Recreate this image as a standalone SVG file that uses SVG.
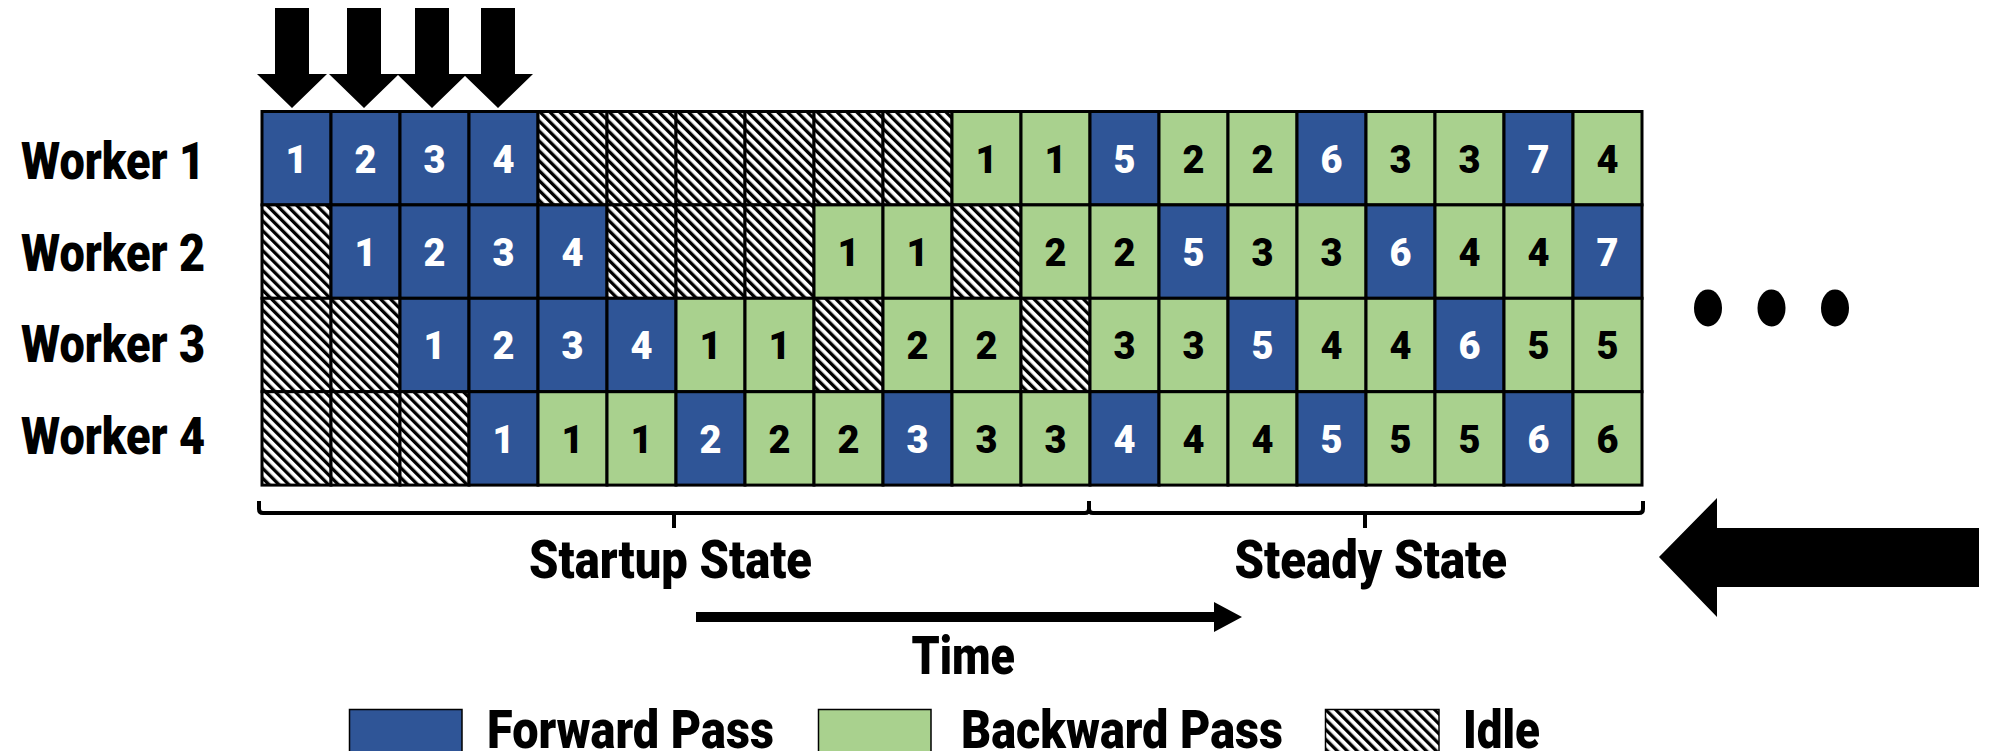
<svg xmlns="http://www.w3.org/2000/svg" width="1990" height="751" viewBox="0 0 1990 751">
<defs>
<pattern id="hatch" patternUnits="userSpaceOnUse" width="7" height="10" patternTransform="rotate(-45)">
<rect x="0" y="0" width="7" height="10" fill="#fff"/>
<rect x="0" y="0" width="3.3" height="10" fill="#000"/>
</pattern>
<style>
.f{fill:#2F5597;stroke:#000;stroke-width:3}
.b{fill:#A9D18E;stroke:#000;stroke-width:3}
.i{fill:url(#hatch);stroke:#000;stroke-width:3}
.n{font-family:Roboto,"Liberation Sans",sans-serif;font-weight:900;font-size:38px;text-anchor:middle}
.tf{fill:#fff}
.tb{fill:#000}
.lbl{font-family:Roboto,"Liberation Sans",sans-serif;font-weight:900;fill:#000}
.w{font-size:51px}
.s{font-size:54px}
.lg{stroke:#000;stroke-width:1.5}
.arr{fill:#000}
.br{fill:none;stroke:#000;stroke-width:4}
</style>
</defs>
<rect x="0" y="0" width="1990" height="751" fill="#fff"/>

<g id="labels">
<text class="lbl w" x="21" y="179" textLength="184" lengthAdjust="spacingAndGlyphs">Worker 1</text>
<text class="lbl w" x="21" y="270.5" textLength="184" lengthAdjust="spacingAndGlyphs">Worker 2</text>
<text class="lbl w" x="21" y="362" textLength="184" lengthAdjust="spacingAndGlyphs">Worker 3</text>
<text class="lbl w" x="21" y="453.5" textLength="184" lengthAdjust="spacingAndGlyphs">Worker 4</text>
</g>

<g id="worker1">
<g id="w1c1"><rect class="f" x="262" y="111.5" width="69" height="93.4"/><text class="n tf" x="296.5" y="172.5">1</text></g>
<g id="w1c2"><rect class="f" x="331" y="111.5" width="69" height="93.4"/><text class="n tf" x="365.5" y="172.5">2</text></g>
<g id="w1c3"><rect class="f" x="400" y="111.5" width="69" height="93.4"/><text class="n tf" x="434.5" y="172.5">3</text></g>
<g id="w1c4"><rect class="f" x="469" y="111.5" width="69" height="93.4"/><text class="n tf" x="503.5" y="172.5">4</text></g>
<g id="w1c5"><rect class="i" x="538" y="111.5" width="69" height="93.4"/></g>
<g id="w1c6"><rect class="i" x="607" y="111.5" width="69" height="93.4"/></g>
<g id="w1c7"><rect class="i" x="676" y="111.5" width="69" height="93.4"/></g>
<g id="w1c8"><rect class="i" x="745" y="111.5" width="69" height="93.4"/></g>
<g id="w1c9"><rect class="i" x="814" y="111.5" width="69" height="93.4"/></g>
<g id="w1c10"><rect class="i" x="883" y="111.5" width="69" height="93.4"/></g>
<g id="w1c11"><rect class="b" x="952" y="111.5" width="69" height="93.4"/><text class="n tb" x="986.5" y="172.5">1</text></g>
<g id="w1c12"><rect class="b" x="1021" y="111.5" width="69" height="93.4"/><text class="n tb" x="1055.5" y="172.5">1</text></g>
<g id="w1c13"><rect class="f" x="1090" y="111.5" width="69" height="93.4"/><text class="n tf" x="1124.5" y="172.5">5</text></g>
<g id="w1c14"><rect class="b" x="1159" y="111.5" width="69" height="93.4"/><text class="n tb" x="1193.5" y="172.5">2</text></g>
<g id="w1c15"><rect class="b" x="1228" y="111.5" width="69" height="93.4"/><text class="n tb" x="1262.5" y="172.5">2</text></g>
<g id="w1c16"><rect class="f" x="1297" y="111.5" width="69" height="93.4"/><text class="n tf" x="1331.5" y="172.5">6</text></g>
<g id="w1c17"><rect class="b" x="1366" y="111.5" width="69" height="93.4"/><text class="n tb" x="1400.5" y="172.5">3</text></g>
<g id="w1c18"><rect class="b" x="1435" y="111.5" width="69" height="93.4"/><text class="n tb" x="1469.5" y="172.5">3</text></g>
<g id="w1c19"><rect class="f" x="1504" y="111.5" width="69" height="93.4"/><text class="n tf" x="1538.5" y="172.5">7</text></g>
<g id="w1c20"><rect class="b" x="1573" y="111.5" width="69" height="93.4"/><text class="n tb" x="1607.5" y="172.5">4</text></g>
</g>

<g id="worker2">
<g id="w2c1"><rect class="i" x="262" y="204.9" width="69" height="93.4"/></g>
<g id="w2c2"><rect class="f" x="331" y="204.9" width="69" height="93.4"/><text class="n tf" x="365.5" y="265.9">1</text></g>
<g id="w2c3"><rect class="f" x="400" y="204.9" width="69" height="93.4"/><text class="n tf" x="434.5" y="265.9">2</text></g>
<g id="w2c4"><rect class="f" x="469" y="204.9" width="69" height="93.4"/><text class="n tf" x="503.5" y="265.9">3</text></g>
<g id="w2c5"><rect class="f" x="538" y="204.9" width="69" height="93.4"/><text class="n tf" x="572.5" y="265.9">4</text></g>
<g id="w2c6"><rect class="i" x="607" y="204.9" width="69" height="93.4"/></g>
<g id="w2c7"><rect class="i" x="676" y="204.9" width="69" height="93.4"/></g>
<g id="w2c8"><rect class="i" x="745" y="204.9" width="69" height="93.4"/></g>
<g id="w2c9"><rect class="b" x="814" y="204.9" width="69" height="93.4"/><text class="n tb" x="848.5" y="265.9">1</text></g>
<g id="w2c10"><rect class="b" x="883" y="204.9" width="69" height="93.4"/><text class="n tb" x="917.5" y="265.9">1</text></g>
<g id="w2c11"><rect class="i" x="952" y="204.9" width="69" height="93.4"/></g>
<g id="w2c12"><rect class="b" x="1021" y="204.9" width="69" height="93.4"/><text class="n tb" x="1055.5" y="265.9">2</text></g>
<g id="w2c13"><rect class="b" x="1090" y="204.9" width="69" height="93.4"/><text class="n tb" x="1124.5" y="265.9">2</text></g>
<g id="w2c14"><rect class="f" x="1159" y="204.9" width="69" height="93.4"/><text class="n tf" x="1193.5" y="265.9">5</text></g>
<g id="w2c15"><rect class="b" x="1228" y="204.9" width="69" height="93.4"/><text class="n tb" x="1262.5" y="265.9">3</text></g>
<g id="w2c16"><rect class="b" x="1297" y="204.9" width="69" height="93.4"/><text class="n tb" x="1331.5" y="265.9">3</text></g>
<g id="w2c17"><rect class="f" x="1366" y="204.9" width="69" height="93.4"/><text class="n tf" x="1400.5" y="265.9">6</text></g>
<g id="w2c18"><rect class="b" x="1435" y="204.9" width="69" height="93.4"/><text class="n tb" x="1469.5" y="265.9">4</text></g>
<g id="w2c19"><rect class="b" x="1504" y="204.9" width="69" height="93.4"/><text class="n tb" x="1538.5" y="265.9">4</text></g>
<g id="w2c20"><rect class="f" x="1573" y="204.9" width="69" height="93.4"/><text class="n tf" x="1607.5" y="265.9">7</text></g>
</g>

<g id="worker3">
<g id="w3c1"><rect class="i" x="262" y="298.3" width="69" height="93.4"/></g>
<g id="w3c2"><rect class="i" x="331" y="298.3" width="69" height="93.4"/></g>
<g id="w3c3"><rect class="f" x="400" y="298.3" width="69" height="93.4"/><text class="n tf" x="434.5" y="359.3">1</text></g>
<g id="w3c4"><rect class="f" x="469" y="298.3" width="69" height="93.4"/><text class="n tf" x="503.5" y="359.3">2</text></g>
<g id="w3c5"><rect class="f" x="538" y="298.3" width="69" height="93.4"/><text class="n tf" x="572.5" y="359.3">3</text></g>
<g id="w3c6"><rect class="f" x="607" y="298.3" width="69" height="93.4"/><text class="n tf" x="641.5" y="359.3">4</text></g>
<g id="w3c7"><rect class="b" x="676" y="298.3" width="69" height="93.4"/><text class="n tb" x="710.5" y="359.3">1</text></g>
<g id="w3c8"><rect class="b" x="745" y="298.3" width="69" height="93.4"/><text class="n tb" x="779.5" y="359.3">1</text></g>
<g id="w3c9"><rect class="i" x="814" y="298.3" width="69" height="93.4"/></g>
<g id="w3c10"><rect class="b" x="883" y="298.3" width="69" height="93.4"/><text class="n tb" x="917.5" y="359.3">2</text></g>
<g id="w3c11"><rect class="b" x="952" y="298.3" width="69" height="93.4"/><text class="n tb" x="986.5" y="359.3">2</text></g>
<g id="w3c12"><rect class="i" x="1021" y="298.3" width="69" height="93.4"/></g>
<g id="w3c13"><rect class="b" x="1090" y="298.3" width="69" height="93.4"/><text class="n tb" x="1124.5" y="359.3">3</text></g>
<g id="w3c14"><rect class="b" x="1159" y="298.3" width="69" height="93.4"/><text class="n tb" x="1193.5" y="359.3">3</text></g>
<g id="w3c15"><rect class="f" x="1228" y="298.3" width="69" height="93.4"/><text class="n tf" x="1262.5" y="359.3">5</text></g>
<g id="w3c16"><rect class="b" x="1297" y="298.3" width="69" height="93.4"/><text class="n tb" x="1331.5" y="359.3">4</text></g>
<g id="w3c17"><rect class="b" x="1366" y="298.3" width="69" height="93.4"/><text class="n tb" x="1400.5" y="359.3">4</text></g>
<g id="w3c18"><rect class="f" x="1435" y="298.3" width="69" height="93.4"/><text class="n tf" x="1469.5" y="359.3">6</text></g>
<g id="w3c19"><rect class="b" x="1504" y="298.3" width="69" height="93.4"/><text class="n tb" x="1538.5" y="359.3">5</text></g>
<g id="w3c20"><rect class="b" x="1573" y="298.3" width="69" height="93.4"/><text class="n tb" x="1607.5" y="359.3">5</text></g>
</g>

<g id="worker4">
<g id="w4c1"><rect class="i" x="262" y="391.7" width="69" height="93.4"/></g>
<g id="w4c2"><rect class="i" x="331" y="391.7" width="69" height="93.4"/></g>
<g id="w4c3"><rect class="i" x="400" y="391.7" width="69" height="93.4"/></g>
<g id="w4c4"><rect class="f" x="469" y="391.7" width="69" height="93.4"/><text class="n tf" x="503.5" y="452.7">1</text></g>
<g id="w4c5"><rect class="b" x="538" y="391.7" width="69" height="93.4"/><text class="n tb" x="572.5" y="452.7">1</text></g>
<g id="w4c6"><rect class="b" x="607" y="391.7" width="69" height="93.4"/><text class="n tb" x="641.5" y="452.7">1</text></g>
<g id="w4c7"><rect class="f" x="676" y="391.7" width="69" height="93.4"/><text class="n tf" x="710.5" y="452.7">2</text></g>
<g id="w4c8"><rect class="b" x="745" y="391.7" width="69" height="93.4"/><text class="n tb" x="779.5" y="452.7">2</text></g>
<g id="w4c9"><rect class="b" x="814" y="391.7" width="69" height="93.4"/><text class="n tb" x="848.5" y="452.7">2</text></g>
<g id="w4c10"><rect class="f" x="883" y="391.7" width="69" height="93.4"/><text class="n tf" x="917.5" y="452.7">3</text></g>
<g id="w4c11"><rect class="b" x="952" y="391.7" width="69" height="93.4"/><text class="n tb" x="986.5" y="452.7">3</text></g>
<g id="w4c12"><rect class="b" x="1021" y="391.7" width="69" height="93.4"/><text class="n tb" x="1055.5" y="452.7">3</text></g>
<g id="w4c13"><rect class="f" x="1090" y="391.7" width="69" height="93.4"/><text class="n tf" x="1124.5" y="452.7">4</text></g>
<g id="w4c14"><rect class="b" x="1159" y="391.7" width="69" height="93.4"/><text class="n tb" x="1193.5" y="452.7">4</text></g>
<g id="w4c15"><rect class="b" x="1228" y="391.7" width="69" height="93.4"/><text class="n tb" x="1262.5" y="452.7">4</text></g>
<g id="w4c16"><rect class="f" x="1297" y="391.7" width="69" height="93.4"/><text class="n tf" x="1331.5" y="452.7">5</text></g>
<g id="w4c17"><rect class="b" x="1366" y="391.7" width="69" height="93.4"/><text class="n tb" x="1400.5" y="452.7">5</text></g>
<g id="w4c18"><rect class="b" x="1435" y="391.7" width="69" height="93.4"/><text class="n tb" x="1469.5" y="452.7">5</text></g>
<g id="w4c19"><rect class="f" x="1504" y="391.7" width="69" height="93.4"/><text class="n tf" x="1538.5" y="452.7">6</text></g>
<g id="w4c20"><rect class="b" x="1573" y="391.7" width="69" height="93.4"/><text class="n tb" x="1607.5" y="452.7">6</text></g>
</g>

<g id="ellipsis">
<ellipse cx="1708" cy="308" rx="14" ry="18.5" fill="#000"/>
<ellipse cx="1771.5" cy="308" rx="14" ry="18.5" fill="#000"/>
<ellipse cx="1835" cy="308" rx="14" ry="18.5" fill="#000"/>
</g>

<g id="connectors">
<polygon class="arr" points="275,8 309,8 309,74 327,74 292,108 257,74 275,74"/>
<polygon class="arr" points="347,8 381,8 381,74 399,74 364,108 329,74 347,74"/>
<polygon class="arr" points="415,8 449,8 449,74 467,74 432,108 397,74 415,74"/>
<polygon class="arr" points="481,8 515,8 515,74 533,74 498,108 463,74 481,74"/>
<path class="br" d="M259,501 V509 Q259,513 263,513 H1085 Q1089,513 1089,509 V501 M674,513 V528"/>
<path class="br" d="M1089,509 Q1089,513 1093,513 H1639 Q1643,513 1643,509 V501 M1365,513 V528"/>
<polygon class="arr" points="696,612 1214,612 1214,602 1242,617 1214,632 1214,622 696,622"/>
<polygon class="arr" points="1659,557 1717,498 1717,528 1979,528 1979,587 1717,587 1717,617"/>
</g>

<g id="states">
<text class="lbl s" x="529" y="578" textLength="283" lengthAdjust="spacingAndGlyphs">Startup State</text>
<text class="lbl s" x="1234.5" y="578" textLength="272.5" lengthAdjust="spacingAndGlyphs">Steady State</text>
<text class="lbl s" x="911.5" y="674" textLength="103.5" lengthAdjust="spacingAndGlyphs">Time</text>
</g>

<g id="legend">
<g id="legend-forward"><rect class="lg" x="349.5" y="709.5" width="112.5" height="45" fill="#2F5597"/><text class="lbl s" x="487" y="748" textLength="287" lengthAdjust="spacingAndGlyphs">Forward Pass</text></g>
<g id="legend-backward"><rect class="lg" x="818.5" y="709.5" width="112.5" height="45" fill="#A9D18E"/><text class="lbl s" x="961" y="748" textLength="322" lengthAdjust="spacingAndGlyphs">Backward Pass</text></g>
<g id="legend-idle"><rect class="lg" x="1325.5" y="709.5" width="113.5" height="45" fill="url(#hatch)"/><text class="lbl s" x="1463" y="748" textLength="77" lengthAdjust="spacingAndGlyphs">Idle</text></g>
</g>
</svg>
